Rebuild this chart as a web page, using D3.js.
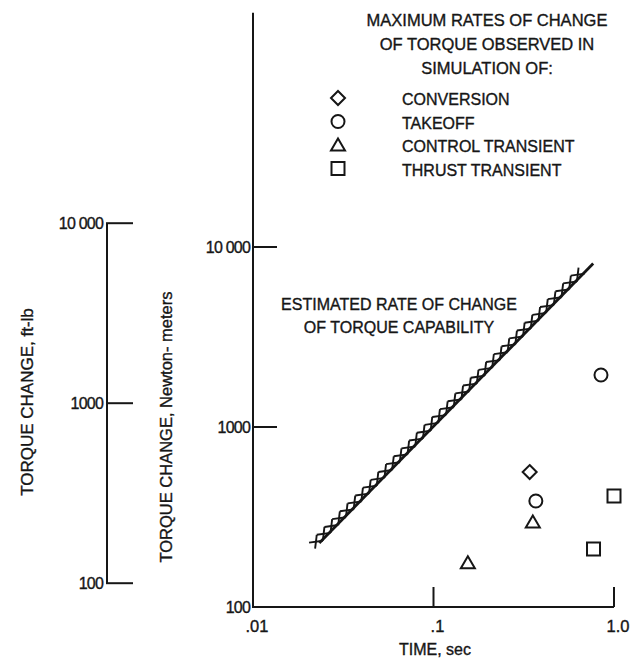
<!DOCTYPE html>
<html><head><meta charset="utf-8">
<script src="https://cdn.jsdelivr.net/npm/d3@7"></script>
<style>
html,body{margin:0;padding:0;background:#fff;}
svg{display:block;}
text{font-family:"Liberation Sans",Arial,sans-serif;fill:#161616;stroke:#161616;stroke-width:0.35px;}
</style></head>
<body><svg id="c" width="634" height="664"></svg>
<script>
// ---- data ----
const xTicks = [0.01, 0.1, 1.0];
const xTickLabels = [".01", ".1", "1.0"];
const yTicks = [100, 1000, 10000];
const yTickLabels = ["100", "1000", "10 000"];
const ftlbTicks = [100, 1000, 10000];
const ftlbTickLabels = ["100", "1000", "10 000"];
const NM_PER_FTLB = 1.3558;

const capabilityTime = [0.0233, 0.767];
const capabilityTorque = [227, 8100];

const seriesNames = ["CONVERSION", "TAKEOFF", "CONTROL TRANSIENT", "THRUST TRANSIENT"];
const seriesSymbols = ["diamond", "circle", "triangle", "square"];
const conversionTime = [0.341];
const conversionTorque = [562];
const takeoffTime = [0.369, 0.847];
const takeoffTorque = [388, 1945];
const controlTime = [0.355, 0.155];
const controlTorque = [297, 176];
const thrustTime = [1.0, 0.77];
const thrustTorque = [414, 210];

const legendTitle = ["MAXIMUM RATES OF CHANGE", "OF TORQUE OBSERVED IN", "SIMULATION OF:"];
const noteLines = ["ESTIMATED RATE OF CHANGE", "OF TORQUE CAPABILITY"];

// ---- layout ----
const svg = d3.select("#c");
const ink = "#161616";
const x = d3.scaleLog().domain([0.01, 1]).range([253, 614]);
const y = d3.scaleLog().domain([100, 10000]).range([607, 247]);
const yTop = 200000;

const g = svg.append("g");

// main axes
g.append("line").attr("x1", x(0.01)).attr("x2", x(0.01)).attr("y1", y(yTop)).attr("y2", y(100) + 1)
  .attr("stroke", ink).attr("stroke-width", 2);
g.append("line").attr("x1", x(0.01) - 1).attr("x2", x(1)).attr("y1", y(100)).attr("y2", y(100))
  .attr("stroke", ink).attr("stroke-width", 2);

// x ticks (upward)
xTicks.forEach((t, i) => {
  if (i > 0) {
    g.append("line").attr("x1", x(t)).attr("x2", x(t)).attr("y1", y(100)).attr("y2", y(100) - 20)
      .attr("stroke", ink).attr("stroke-width", 2);
  }
  g.append("text").attr("x", x(t) + 4).attr("y", 632).attr("text-anchor", "middle")
    .attr("font-size", 16.5).text(xTickLabels[i]);
});
g.append("text").attr("x", 435).attr("y", 655).attr("text-anchor", "middle")
  .attr("font-size", 16).text("TIME, sec");

// y ticks (rightward)
yTicks.forEach((v, i) => {
  if (i > 0) {
    g.append("line").attr("x1", x(0.01)).attr("x2", x(0.01) + 24).attr("y1", y(v)).attr("y2", y(v))
      .attr("stroke", ink).attr("stroke-width", 2);
  }
  g.append("text").attr("x", 250).attr("y", y(v) + 6).attr("text-anchor", "end")
    .attr("font-size", 16).attr("letter-spacing", -0.8).text(yTickLabels[i]);
});
g.append("text").attr("transform", `translate(172,427) rotate(-90)`).attr("text-anchor", "middle")
  .attr("font-size", 16.5).text("TORQUE CHANGE, Newton- meters");

// secondary ft-lb axis
const yf = v => y(v * NM_PER_FTLB);
const lx = 107;
g.append("line").attr("x1", lx).attr("x2", lx).attr("y1", yf(10000)).attr("y2", yf(100))
  .attr("stroke", ink).attr("stroke-width", 2);
ftlbTicks.forEach((v, i) => {
  g.append("line").attr("x1", lx - 1).attr("x2", lx + 26).attr("y1", yf(v)).attr("y2", yf(v))
    .attr("stroke", ink).attr("stroke-width", 2);
  g.append("text").attr("x", 103).attr("y", yf(v) + 6).attr("text-anchor", "end")
    .attr("font-size", 16).attr("letter-spacing", -0.8).text(ftlbTickLabels[i]);
});
g.append("text").attr("transform", `translate(33,402) rotate(-90)`).attr("text-anchor", "middle")
  .attr("font-size", 17).text("TORQUE CHANGE, ft-lb");

// capability line with hatching
const p0 = [x(capabilityTime[0]), y(capabilityTorque[0])];
const p1 = [x(capabilityTime[1]), y(capabilityTorque[1])];
g.append("line").attr("x1", p0[0]).attr("y1", p0[1]).attr("x2", p1[0]).attr("y2", p1[1])
  .attr("stroke", ink).attr("stroke-width", 2.8);
const dx = p1[0] - p0[0], dy = p1[1] - p0[1];
const L = Math.hypot(dx, dy);
const ux = dx / L, uy = dy / L;
const nx = uy, ny = -ux; // upper-left normal
const period = 11, w = 7.5, under = 1;
const n = Math.floor((L - 4) / period);
const hatch = [];
for (let i = 0; i < n; i++) {
  const s0 = -7 + i * period, s1 = s0 + period;
  const b0 = [p0[0] + ux * s0 - nx * under, p0[1] + uy * s0 - ny * under];
  const b1 = [p0[0] + ux * s1 - nx * under, p0[1] + uy * s1 - ny * under];
  const t0 = [p0[0] + ux * s0 + nx * w, p0[1] + uy * s0 + ny * w];
  const t1 = [p0[0] + ux * s1 + nx * w, p0[1] + uy * s1 + ny * w];
  hatch.push([b0, t1], [t0, b1]);
}
g.append("g").selectAll("line").data(hatch).join("line")
  .attr("x1", d => d[0][0]).attr("y1", d => d[0][1])
  .attr("x2", d => d[1][0]).attr("y2", d => d[1][1])
  .attr("stroke", ink).attr("stroke-width", 1.9);

// note
noteLines.forEach((t, i) => {
  g.append("text").attr("x", 399).attr("y", 310 + i * 23).attr("text-anchor", "middle")
    .attr("font-size", 16).text(t);
});

// symbol drawing
function drawSymbol(sel, type, cx, cy) {
  const s = sel.append("path").attr("fill", "none").attr("stroke", ink).attr("stroke-width", 2);
  let d;
  if (type === "diamond") d = `M${cx},${cy-7}L${cx+7},${cy}L${cx},${cy+7}L${cx-7},${cy}Z`;
  else if (type === "circle") d = `M${cx+6.5},${cy}A6.5,6.5 0 1,1 ${cx-6.5},${cy}A6.5,6.5 0 1,1 ${cx+6.5},${cy}Z`;
  else if (type === "triangle") d = `M${cx},${cy-6.5}L${cx+7},${cy+5.5}L${cx-7},${cy+5.5}Z`;
  else d = `M${cx-6.5},${cy-6.5}H${cx+6.5}V${cy+6.5}H${cx-6.5}Z`;
  s.attr("d", d);
}

const seriesTimes = [conversionTime, takeoffTime, controlTime, thrustTime];
const seriesTorques = [conversionTorque, takeoffTorque, controlTorque, thrustTorque];
seriesTimes.forEach((ts, k) => {
  ts.forEach((t, j) => drawSymbol(g, seriesSymbols[k], x(t), y(seriesTorques[k][j])));
});

// legend
legendTitle.forEach((t, i) => {
  g.append("text").attr("x", 487).attr("y", 26 + i * 24).attr("text-anchor", "middle")
    .attr("font-size", 16.5).text(t);
});
seriesNames.forEach((name, i) => {
  const cy = 98 + i * 23.5;
  drawSymbol(g, seriesSymbols[i], 338, cy);
  g.append("text").attr("x", 402).attr("y", cy + 7).attr("font-size", 16).text(name);
});
</script></body></html>
